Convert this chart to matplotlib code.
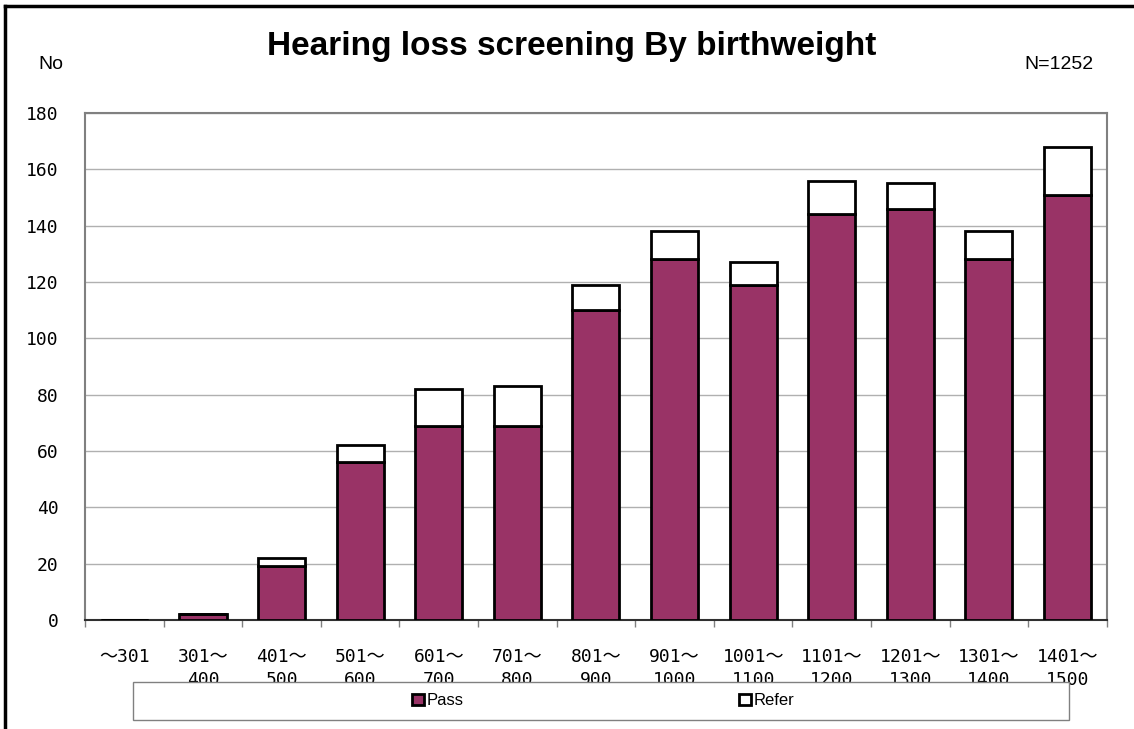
import numpy as np
import matplotlib.pyplot as plt
from matplotlib.patches import Patch, Rectangle
from matplotlib.lines import Line2D

# birthweight groups (g)
groups = ["～301", "301～\n400", "401～\n500", "501～\n600", "601～\n700",
          "701～\n800", "801～\n900", "901～\n1000", "1001～\n1100",
          "1101～\n1200", "1201～\n1300", "1301～\n1400", "1401～\n1500"]
passed = [0, 2, 19, 56, 69, 69, 110, 128, 119, 144, 146, 128, 151]
refer = [0, 0, 3, 6, 13, 14, 9, 10, 8, 12, 9, 10, 17]
yticks = [0, 20, 40, 60, 80, 100, 120, 140, 160, 180]

pass_color = "#993366"
tick_font = ["DejaVu Sans Mono", "Noto Sans CJK JP"]

fig = plt.figure(figsize=(11.34, 7.29), dpi=100)
ax = fig.add_axes([0.075, 0.1495, 0.901, 0.6955])

x = np.arange(len(groups))
ax.bar(x, passed, width=0.6, color=pass_color, edgecolor="black", linewidth=2, zorder=3)
ax.bar(x, refer, width=0.6, bottom=passed, color="white", edgecolor="black", linewidth=2, zorder=3)

ax.set_xlim(-0.5, len(groups) - 0.5)
ax.set_ylim(0, 180)
ax.set_yticks(yticks)
ax.set_yticklabels([str(v) for v in yticks], family=tick_font, fontsize=13)
ax.tick_params(axis="y", length=0, pad=19)
ax.grid(axis="y", color="#b0b0b0", linewidth=1, zorder=0)

ax.set_xticks(x)
ax.set_xticklabels(groups, family=tick_font, fontsize=13, linespacing=1.4)
ax.tick_params(axis="x", length=0, pad=20)
ax.set_xticks(np.arange(len(groups) + 1) - 0.5, minor=True)
ax.tick_params(axis="x", which="minor", length=5, color="#808080", width=1)

for side in ["top", "right", "left"]:
    ax.spines[side].set_color("#808080")
    ax.spines[side].set_linewidth(1.5)
ax.spines["bottom"].set_color("#303030")
ax.spines["bottom"].set_linewidth(1.5)

fig.text(0.504, 0.936, "Hearing loss screening By birthweight", ha="center", va="center",
         fontsize=24, fontweight="bold", family="Liberation Sans")
fig.text(0.045, 0.911, "No", ha="center", va="center", fontsize=14, family="Liberation Sans")
fig.text(0.934, 0.911, "N=1252", ha="center", va="center", fontsize=14, family="Liberation Sans")

# legend box sits over the lower tick label line
box = Rectangle((133 / 1134, 9 / 729), 936 / 1134, 38 / 729, transform=fig.transFigure,
                facecolor="white", edgecolor="#808080", linewidth=1, zorder=5)
fig.patches.append(box)
handles = [Patch(facecolor=pass_color, edgecolor="black", linewidth=2, label="Pass"),
           Patch(facecolor="white", edgecolor="black", linewidth=2, label="Refer")]
leg = fig.legend(handles=handles, loc="center", bbox_to_anchor=(0.532, 0.0385), ncol=2,
                 frameon=False, handlelength=0.7, handleheight=0.7,
                 handletextpad=0.2, columnspacing=16.5, prop={"family": "Liberation Sans", "size": 12})
leg.set_zorder(6)

# outer chart border (top and left)
fig.add_artist(Line2D([5 / 1134, 1], [1 - 6 / 729, 1 - 6 / 729], transform=fig.transFigure,
                      color="black", linewidth=2.5))
fig.add_artist(Line2D([5 / 1134, 5 / 1134], [0, 1 - 6 / 729], transform=fig.transFigure,
                      color="black", linewidth=2.5))

plt.savefig("out.png", dpi=100)
